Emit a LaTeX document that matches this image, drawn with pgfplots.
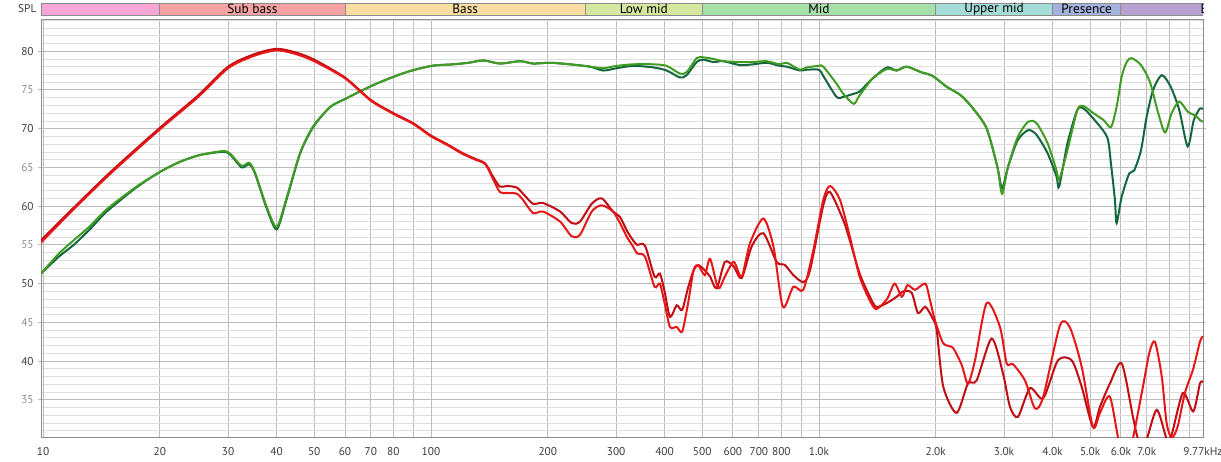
\documentclass[border=0pt]{standalone}
\usepackage{pgfplots}
\pgfplotsset{compat=1.18}
\usepackage{fontspec}
\setmainfont{PT Sans}
\definecolor{rbright}{RGB}{232,22,22}
\definecolor{rdark}{RGB}{192,12,18}
\definecolor{gdark}{RGB}{20,102,62}
\definecolor{glight}{RGB}{64,156,34}
\definecolor{bpink}{RGB}{249,166,214}
\definecolor{bsub}{RGB}{245,162,162}
\definecolor{bbass}{RGB}{248,222,160}
\definecolor{blow}{RGB}{214,232,160}
\definecolor{bmid}{RGB}{166,224,170}
\definecolor{bupper}{RGB}{166,220,216}
\definecolor{bpres}{RGB}{164,178,222}
\definecolor{bbril}{RGB}{184,162,212}
\definecolor{bedge}{RGB}{140,140,140}
\definecolor{txt}{RGB}{60,60,60}
\definecolor{lgray}{RGB}{140,140,140}
\definecolor{gridmaj}{RGB}{188,188,188}
\definecolor{gridmin}{RGB}{222,222,222}
\definecolor{griddec}{RGB}{120,120,120}

\pgfplotstableread{
f db
9.88 51.3
11 53.5
12 55.0
13.2 57.0
14.6 59.3
17.4 62.4
20 64.4
22.5 65.7
25.4 66.6
29 67.0
30.3 66.7
32.5 65.0
34 65.4
35.2 64.2
37.6 59.9
40 57.0
42.4 60.8
46 66.8
49.7 70.2
55 72.8
60.5 73.9
65.6 74.8
73.9 76.0
86.6 77.3
100.4 78.1
114.1 78.3
125 78.5
136.4 78.8
150.6 78.4
169.6 78.7
183.5 78.4
202.6 78.5
228.1 78.3
256.9 78.0
278 77.5
301 77.8
332.2 78.1
374.1 77.9
405 77.5
438.3 76.6
456 76.9
484 78.6
503 78.9
534 78.6
567 78.7
626 78.2
677 78.3
733 78.5
793 78.1
826 78.0
893 77.5
929 77.6
1000 77.6
1026 76.8
1110 74.1
1155 74.1
1229 74.5
1273 74.8
1377 76.5
1497 77.9
1586 77.5
1683 78.0
1830 77.3
1963 76.8
2134 75.4
2320 74.3
2496 72.6
2706 70.0
2882 65.1
2965 62.3
3073 65.1
3253 68.5
3462 69.8
3637 69.2
3886 66.8
4096 63.8
4160 62.5
4370 68.1
4633 72.4
4807 72.6
5095 71.3
5531 68.9
5657 65.5
5792 60.8
5851 57.8
6029 61.2
6304 64.2
6494 64.6
6761 67.2
6991 71.5
7268 75.0
7650 76.9
8065 75.4
8486 72.4
8920 67.7
9250 71.1
9594 72.6
9765 72.5
}\gdark

\pgfplotstableread{
f db
9.88 51.3
11 53.9
12 55.6
13.2 57.4
14.6 59.6
17.4 62.5
20 64.4
22.5 65.7
25.4 66.6
29 67.1
30.3 66.8
32.5 65.2
34 65.6
35.2 64.3
37.6 60.1
40 57.3
42.4 61.0
46 66.9
49.7 70.3
55 72.8
60.5 73.9
65.6 74.8
73.9 76.0
86.6 77.3
100.4 78.1
114.1 78.3
125 78.5
136.4 78.8
150.6 78.4
169.6 78.7
183.5 78.4
202.6 78.5
228.1 78.3
256.9 78.0
278 77.8
301 78.1
332.2 78.3
374.1 78.3
405 78.1
438.3 77.1
456 77.3
484 79.1
503 79.2
534 79.0
567 78.7
626 78.6
677 78.6
733 78.7
793 78.3
826 78.5
893 77.6
929 77.9
1000 78.1
1026 78.0
1110 75.8
1155 74.5
1229 73.2
1273 74.3
1377 76.5
1497 77.7
1586 77.5
1683 78.0
1830 77.3
1963 76.8
2134 75.4
2320 74.3
2496 72.6
2706 70.0
2882 65.1
2965 61.6
3073 65.1
3253 68.9
3462 70.9
3637 70.7
3886 68.1
4096 64.6
4160 63.4
4370 67.2
4633 72.4
4807 72.9
5095 72.0
5416 71.1
5657 70.2
5851 72.8
6029 76.7
6212 78.6
6395 79.1
6761 78.2
7133 76.0
7490 72.0
7805 69.5
8110 72.0
8486 73.5
8920 72.2
9380 71.6
9594 71.1
9765 70.9
}\glight

\pgfplotstableread{
f db
9.88 55.6
12 59.8
15 64.5
20 70.1
25 74.2
30 78.0
35 79.6
40 80.3
45 79.8
50 78.9
60 76.6
70 73.7
80 72.0
90 70.7
100 69.1
110 68.0
120 66.9
130 66.1
138 65.5
144.5 63.8
150.6 62.5
156.7 62.6
166.3 62.4
172.7 61.6
183.2 60.3
194.4 60.4
215.1 59.3
230.5 57.8
242.1 58.0
259.6 60.3
275.4 61.0
294.5 59.3
307 58.6
320 56.8
331.6 55.6
340 55.0
356 54.9
377 50.9
389 51.3
400 49.0
413 45.7
430 47.2
444 46.6
460 49.5
475 51.7
488 52.4
508 51.7
524 50.9
545 49.4
572 52.8
603 52.2
632 50.7
671 54.8
719 56.5
778 52.8
817 52.4
859 51.1
911 50.2
948 51.7
1026 60.1
1068 61.8
1155 58.2
1202 55.5
1273 51.3
1347 48.5
1404 47.0
1497 47.5
1586 48.3
1649 49.0
1734 48.8
1800 46.2
1880 47.0
1964 45.5
2011 44.0
2091 36.7
2263 33.3
2421 37.1
2549 37.5
2787 42.9
2981 38.4
3107 34.1
3258 32.8
3499 36.5
3785 35.2
4130 40.1
4481 40.1
4754 36.7
5084 31.5
5300 34.1
5623 37.1
6029 39.7
6447 32.8
6641 30.0
6900 29.0
7419 33.7
7873 30.0
8110 30.5
8672 35.9
9220 33.5
9594 37.1
9765 37.3
}\rdark

\pgfplotstableread{
f db
9.88 55.3
12 59.6
15 64.3
20 69.9
25 74.0
30 77.8
35 79.4
40 80.1
45 79.6
50 78.7
60 76.5
70 73.6
80 71.9
90 70.6
100 69.0
110 67.9
120 66.8
130 66.0
138 65.4
144.5 63.5
150.6 61.8
156.7 61.7
166.3 61.6
172.7 60.8
183.2 59.1
194.4 59.3
215.1 58.0
230.5 56.1
242.1 56.3
259.6 59.3
275.4 60.1
294.5 59.3
307 57.8
320 56.0
331.6 54.8
340 53.9
356 53.5
377 49.6
389 50.0
400 47.5
413 44.4
430 44.4
444 43.8
460 47.5
475 51.7
488 52.4
508 51.1
524 53.2
550 49.4
572 50.9
603 52.8
632 50.9
664 55.2
719 58.4
764 54.7
807 47.0
859 49.6
911 49.2
967 54.3
1026 60.8
1068 62.6
1133 60.8
1202 56.0
1273 50.9
1347 48.0
1404 46.7
1497 48.0
1567 50.0
1636 48.3
1690 49.8
1769 49.2
1880 50.0
1930 48.0
1990 45.3
2091 42.3
2215 41.7
2333 39.5
2421 37.1
2525 40.1
2706 47.5
2928 44.4
3047 39.7
3162 39.6
3396 37.5
3604 33.9
3785 35.4
4180 44.6
4436 44.3
4754 39.3
5084 31.5
5300 33.3
5623 35.4
5968 29.0
6300 28.0
6800 36.0
7100 41.0
7345 42.5
7650 38.0
7873 32.0
8110 30.1
8400 31.5
8776 35.9
9220 39.0
9594 42.5
9765 43.2
}\rbright

\begin{document}
\begin{tikzpicture}
\useasboundingbox (0pt,0pt) rectangle (915.75pt,345.75pt);
\begin{axis}[
  at={(30.75pt,18pt)}, anchor=south west,
  width=871.5pt, height=313.5pt, scale only axis,
  xmode=log, xmin=9.88, xmax=9770, ymin=30.2, ymax=84.15,
  xtick={20,30,40,50,60,70,80,90,200,300,400,500,600,700,800,900,2000,3000,4000,5000,6000,7000,8000,9000,9770},
  xticklabels={20,30,40,50,60,70,80,{},200,300,400,500,600,700,800,{},2.0k,3.0k,4.0k,5.0k,6.0k,7.0k,{},{},9.77kHz},
  extra x ticks={10,100,1000},
  extra x tick labels={10,100,1.0k},
  extra x tick style={grid style={color=griddec, line width=0.6pt}},
  ytick={35,40,45,50,55,60,65,70,75,80},
  yticklabels={{\textcolor{lgray}{35}},40,{\textcolor{lgray}{45}},50,{\textcolor{lgray}{55}},60,{\textcolor{lgray}{65}},70,{\textcolor{lgray}{75}},80},
  minor ytick={31,32,33,34,36,37,38,39,41,42,43,44,46,47,48,49,51,52,53,54,56,57,58,59,61,62,63,64,66,67,68,69,71,72,73,74,76,77,78,79,81,82,83,84},
  grid=both,
  major grid style={color=gridmaj, line width=0.6pt},
  minor grid style={color=gridmin, line width=0.5pt},
  xtick style={draw=none},
  ytick style={draw=gridmaj, line width=0.6pt},
  minor tick length=0pt,
  major tick length=2.5pt,
  tick align=outside,
  axis line style={draw=bedge, line width=0.6pt},
  tick label style={font=\fontsize{8.5}{10}\selectfont, text=txt},
  xticklabel style={yshift=-2pt},
  yticklabel style={xshift=0.5pt},
  every axis plot/.append style={line width=1.5pt, smooth, tension=0.45},
]
\addplot[color=gdark] table[x=f,y=db] {\gdark};
\addplot[color=glight] table[x=f,y=db] {\glight};
\addplot[color=rdark] table[x=f,y=db] {\rdark};
\addplot[color=rbright] table[x=f,y=db] {\rbright};
\end{axis}

\begin{axis}[
  at={(30.75pt,333.75pt)}, anchor=south west,
  width=871.5pt, height=10.125pt, scale only axis,
  xmode=log, xmin=9.88, xmax=9770, ymin=-0.06, ymax=1.06,
  axis line style={draw=none}, ticks=none,
  every node/.style={font=\fontsize{8.5}{10}\selectfont, text=txt},
]
\addplot[fill=bpink, draw=bedge, line width=0.6pt] coordinates {(9.88,0)(20,0)(20,1)(9.88,1)} --cycle;
\addplot[fill=bsub, draw=bedge, line width=0.6pt] coordinates {(20,0)(60,0)(60,1)(20,1)} --cycle;
\addplot[fill=bbass, draw=bedge, line width=0.6pt] coordinates {(60,0)(250,0)(250,1)(60,1)} --cycle;
\addplot[fill=blow, draw=bedge, line width=0.6pt] coordinates {(250,0)(500,0)(500,1)(250,1)} --cycle;
\addplot[fill=bmid, draw=bedge, line width=0.6pt] coordinates {(500,0)(2000,0)(2000,1)(500,1)} --cycle;
\addplot[fill=bupper, draw=bedge, line width=0.6pt] coordinates {(2000,0)(4000,0)(4000,1)(2000,1)} --cycle;
\addplot[fill=bpres, draw=bedge, line width=0.6pt] coordinates {(4000,0)(6000,0)(6000,1)(4000,1)} --cycle;
\addplot[fill=bbril, draw=bedge, line width=0.6pt] coordinates {(6000,0)(20000,0)(20000,1)(6000,1)} --cycle;
\node at (axis cs:34.64,0.5) {Sub bass};
\node at (axis cs:122.5,0.5) {Bass};
\node at (axis cs:353.6,0.5) {Low mid};
\node at (axis cs:1000,0.5) {Mid};
\node at (axis cs:2828,0.5) {Upper mid};
\node at (axis cs:4899,0.5) {Presence};
\node at (axis cs:11300,0.5) {Brilliance};
\end{axis}
\node[anchor=east, font=\fontsize{8.5}{10}\selectfont, text=txt, inner sep=0pt] at (27.5pt,339pt) {SPL};
\end{tikzpicture}
\end{document}
